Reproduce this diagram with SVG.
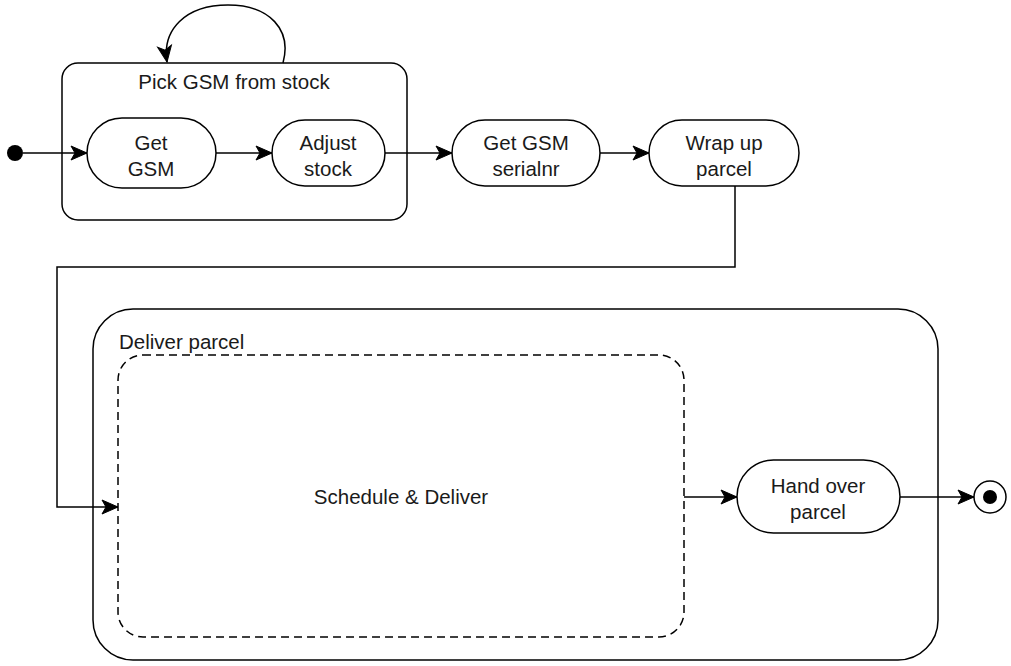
<svg xmlns="http://www.w3.org/2000/svg" width="1011" height="666" viewBox="0 0 1011 666">
<style>
.s{fill:#fff;stroke:#000;stroke-width:1.5}
.d{fill:none;stroke:#000;stroke-width:1.5;stroke-dasharray:8 5}
.c{fill:none;stroke:#000;stroke-width:1.5}
text{font-family:"Liberation Sans",Arial,sans-serif;font-size:20.5px;fill:#1a1a1a}
.m{text-anchor:middle}
</style>
<defs>
<marker id="a" markerUnits="userSpaceOnUse" markerWidth="20" markerHeight="20" refX="17" refY="8" orient="auto" overflow="visible">
<path d="M17,8 L1,1 L5,8 L1,15 Z" fill="#000" stroke="#000" stroke-width="1"/>
</marker>
</defs>
<g id="pick-group">
<rect class="s" x="62" y="63" width="345" height="157" rx="16"/>
<text class="m" x="234" y="89">Pick GSM from stock</text>
</g>
<g id="deliver-group">
<rect class="s" x="93" y="309" width="845" height="351" rx="40"/>
<text x="119" y="349">Deliver parcel</text>
</g>
<g id="schedule">
<rect class="d" x="118" y="355" width="566" height="282" rx="25"/>
<text class="m" x="401" y="504">Schedule &amp; Deliver</text>
</g>
<g id="start">
<circle cx="15" cy="153" r="8" fill="#000"/>
</g>
<g id="get-gsm">
<rect class="s" x="87" y="118" width="129" height="70" rx="35"/>
<text class="m" x="151" y="150">Get</text>
<text class="m" x="151" y="176">GSM</text>
</g>
<g id="adjust-stock">
<rect class="s" x="272" y="120" width="113" height="66" rx="33"/>
<text class="m" x="328" y="150">Adjust</text>
<text class="m" x="328" y="176">stock</text>
</g>
<g id="serialnr">
<rect class="s" x="452" y="120" width="148" height="66" rx="33"/>
<text class="m" x="526" y="150">Get GSM</text>
<text class="m" x="526" y="176">serialnr</text>
</g>
<g id="wrap-up">
<rect class="s" x="649" y="120" width="150" height="66" rx="33"/>
<text class="m" x="724" y="150">Wrap up</text>
<text class="m" x="724" y="176">parcel</text>
</g>
<g id="hand-over">
<rect class="s" x="737" y="460" width="163" height="73" rx="36.5"/>
<text class="m" x="818" y="493">Hand over</text>
<text class="m" x="818" y="519">parcel</text>
</g>
<g id="end">
<circle cx="990" cy="497" r="16" fill="#fff" stroke="#000" stroke-width="1.5"/>
<circle cx="990" cy="497" r="7" fill="#000"/>
</g>
<g id="connectors">
<path class="c" d="M23,153 L87,153" marker-end="url(#a)"/>
<path class="c" d="M216,153 L272,153" marker-end="url(#a)"/>
<path class="c" d="M385,153 L452,153" marker-end="url(#a)"/>
<path class="c" d="M600,153 L649,153" marker-end="url(#a)"/>
<path class="c" d="M735,186 L735,267 L57,267 L57,507 L118,507" marker-end="url(#a)"/>
<path class="c" d="M684,497 L737,497" marker-end="url(#a)"/>
<path class="c" d="M900,497 L974,497" marker-end="url(#a)"/>
<path class="c" d="M283,63 C292,30 270,5 228,5 C185,5 162,30 167,62" marker-end="url(#a)"/>
</g>
</svg>
